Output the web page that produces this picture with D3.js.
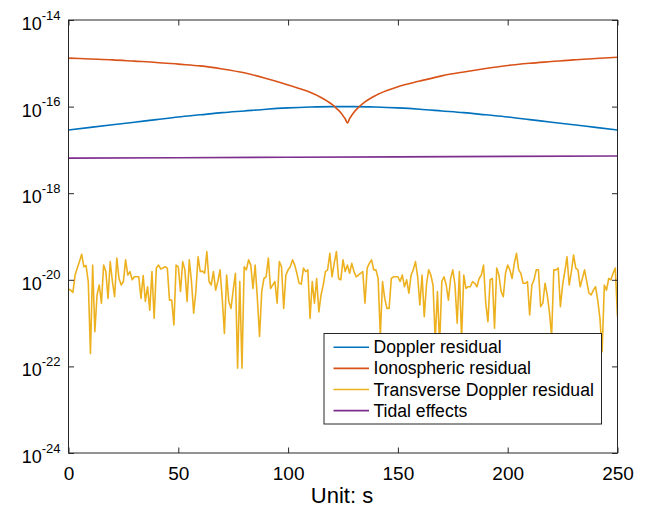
<!DOCTYPE html>
<html>
<head>
<meta charset="utf-8">
<script src="https://cdn.jsdelivr.net/npm/d3@7"></script>
<style>
  html, body { margin: 0; padding: 0; background: #fff; }
  svg { display: block; font-family: "Liberation Sans", Arial, Helvetica, sans-serif; }
</style>
</head>
<body>
<svg id="chart" width="647" height="509"></svg>
<script>
// ---------------- DATA ----------------
const seriesNames = ["Doppler residual", "Ionospheric residual", "Transverse Doppler residual", "Tidal effects"];
const seriesColors = ["#0072BD", "#D95319", "#EDB120", "#7E2F8E"];

const xTicks = [0, 50, 100, 150, 200, 250];
const yTickExps = [-24, -22, -20, -18, -16, -14];
const xLabel = "Unit: s";

// Doppler residual (log10 values) sampled every 10 s
const dopplerT = [0,10,20,30,40,50,60,70,80,90,100,110,120,130,140,150,160,170,180,190,200,210,220,230,240,250];
const dopplerLog = [-16.54,-16.48,-16.42,-16.36,-16.30,-16.24,-16.19,-16.14,-16.10,-16.06,-16.03,-16.01,-16.00,
                    -16.00,-16.01,-16.03,-16.06,-16.10,-16.14,-16.19,-16.24,-16.30,-16.36,-16.42,-16.48,-16.54];

// Ionospheric residual (log10 values)
const ionoT = [0,10,20,30,40,50,60,70,80,90,100,105,110,115,118,120,122,124,125,126,127,
               128,129,130,132,135,140,145,150,160,170,180,190,200,210,220,230,240,250];
const ionoLog = [-14.88,-14.90,-14.92,-14.95,-14.98,-15.02,-15.06,-15.13,-15.22,-15.35,-15.50,-15.58,-15.67,-15.79,-15.88,-15.95,-16.04,-16.14,-16.21,-16.28,-16.38,
                 -16.28,-16.20,-16.13,-16.02,-15.89,-15.74,-15.63,-15.54,-15.41,-15.29,-15.20,-15.12,-15.05,-15.00,-14.96,-14.92,-14.89,-14.86];

// Transverse Doppler residual (log10 values), one sample per second, t = 0..250
const transverseLog = [
-20.21,-20.24,-20.29,-19.89,-19.73,-19.58,-19.41,-19.70,-19.67,-20.04,
-21.70,-19.66,-21.20,-20.35,-20.12,-20.54,-19.66,-19.81,-20.43,-19.58,
-20.04,-20.39,-19.50,-19.97,-20.12,-20.04,-19.54,-19.89,-19.81,-20.00,
-19.93,-19.93,-19.93,-20.43,-19.90,-20.50,-20.16,-20.70,-19.81,-20.89,
-19.73,-19.66,-19.75,-19.73,-19.70,-19.73,-20.47,-20.47,-21.04,-19.66,
-19.70,-20.27,-19.58,-19.77,-20.50,-19.54,-20.04,-20.77,-20.27,-19.47,
-19.81,-19.80,-19.85,-19.35,-20.04,-20.12,-19.81,-20.24,-20.04,-19.77,
-20.43,-21.24,-19.89,-20.50,-20.66,-20.24,-19.85,-22.04,-20.04,-22.04,
-19.70,-19.77,-19.54,-19.66,-20.20,-19.66,-20.43,-21.31,-20.27,-19.97,
-19.93,-19.50,-20.20,-20.12,-20.04,-20.54,-19.58,-19.70,-20.66,-19.89,
-19.77,-19.70,-19.54,-19.66,-19.85,-20.08,-20.10,-19.73,-19.81,-19.77,
-20.89,-20.04,-20.54,-19.97,-20.74,-20.35,-20.12,-19.81,-19.77,-19.39,
-19.93,-19.62,-19.35,-19.97,-20.00,-19.54,-19.81,-19.66,-19.85,-19.62,
-19.81,-19.93,-19.89,-19.85,-19.81,-20.54,-19.73,-19.62,-19.54,-19.77,
-19.77,-19.97,-21.30,-20.04,-20.43,-20.66,-20.66,-19.97,-19.93,-19.93,
-19.93,-20.04,-19.89,-20.16,-20.00,-20.31,-19.89,-19.77,-19.58,-19.93,
-20.58,-19.89,-20.85,-20.12,-19.77,-19.89,-20.12,-21.40,-20.27,-21.50,
-20.04,-19.93,-20.12,-20.47,-19.97,-19.77,-20.12,-21.00,-19.81,-21.35,
-19.89,-20.20,-20.16,-20.16,-20.04,-20.08,-20.16,-19.97,-19.89,-19.66,
-20.54,-20.97,-20.00,-19.97,-21.12,-19.73,-19.89,-20.27,-20.39,-19.85,
-19.66,-19.77,-19.97,-19.62,-19.39,-19.77,-19.85,-20.08,-20.08,-20.04,
-20.81,-20.12,-20.00,-19.77,-19.77,-20.62,-20.54,-20.08,-20.35,-20.74,
-21.30,-19.77,-19.77,-19.73,-20.62,-20.12,-19.81,-19.47,-20.12,-19.81,
-19.43,-19.73,-19.77,-20.16,-19.97,-19.77,-20.04,-20.31,-20.35,-20.24,
-20.16,-20.47,-20.89,-21.66,-20.12,-20.24,-19.97,-20.00,-19.85,-19.73,
-20.85];

// Tidal effects (log10 values)
const tidalT = [0, 50, 100, 150, 200, 250];
const tidalLog = [-17.19, -17.18, -17.17, -17.16, -17.15, -17.14];

// ---------------- CHART ----------------
const svg = d3.select("#chart");
const L = 68.5, R = 617.5, T = 20, B = 453;
const axisColor = "#262626";

const x = d3.scaleLinear().domain([0, 250]).range([L, R]);
const y = d3.scaleLog().domain([1e-24, 1e-14]).range([B, T]);

svg.append("defs").append("clipPath").attr("id", "plotclip")
  .append("rect").attr("x", L).attr("y", T).attr("width", R - L).attr("height", B - T);

const toPts = (ts, logs) => ts.map((t, i) => ({ t: t, v: Math.pow(10, logs[i]) }));
const series = [
  toPts(dopplerT, dopplerLog),
  toPts(ionoT, ionoLog),
  toPts(d3.range(transverseLog.length), transverseLog),
  toPts(tidalT, tidalLog)
];

const line = d3.line().x(d => x(d.t)).y(d => y(d.v));
const gLines = svg.append("g").attr("clip-path", "url(#plotclip)");
series.forEach((s, i) => {
  gLines.append("path")
    .datum(s)
    .attr("fill", "none")
    .attr("stroke", seriesColors[i])
    .attr("stroke-width", 1.6)
    .attr("stroke-linejoin", "round")
    .attr("d", i === 0 || i === 1 ? line.curve(d3.curveMonotoneX)(s) : line.curve(d3.curveLinear)(s));
});

// axes (ticks inside, box)
const tickLen = 5.5;
const gx = svg.append("g").attr("transform", `translate(0,${B})`)
  .call(d3.axisBottom(x).tickValues(xTicks).tickSizeInner(-tickLen).tickSizeOuter(0).tickPadding(14));
const gxTop = svg.append("g").attr("transform", `translate(0,${T})`)
  .call(d3.axisTop(x).tickValues(xTicks).tickSizeInner(-tickLen).tickSizeOuter(0).tickFormat(""));
const yTickVals = yTickExps.map(e => Math.pow(10, e));
const gy = svg.append("g").attr("transform", `translate(${L},0)`)
  .call(d3.axisLeft(y).tickValues(yTickVals).tickSizeInner(-tickLen).tickSizeOuter(0).tickFormat(""));
const gyR = svg.append("g").attr("transform", `translate(${R},0)`)
  .call(d3.axisRight(y).tickValues(yTickVals).tickSizeInner(-tickLen).tickSizeOuter(0).tickFormat(""));

[gx, gxTop, gy, gyR].forEach(g => {
  g.select(".domain").remove();
  g.selectAll(".tick line").attr("stroke", axisColor).attr("stroke-width", 1);
});
gx.selectAll(".tick text").attr("fill", "#000").attr("font-size", 19)
  .attr("font-family", "'Liberation Sans', Arial, sans-serif");

svg.append("rect").attr("x", L).attr("y", T).attr("width", R - L).attr("height", B - T)
  .attr("fill", "none").attr("stroke", axisColor).attr("stroke-width", 1);

// y tick labels 10^e
yTickExps.forEach(e => {
  const yy = y(Math.pow(10, e));
  const t = svg.append("text")
    .attr("x", L - 8).attr("y", yy + 10)
    .attr("text-anchor", "end")
    .attr("fill", "#000")
    .attr("font-size", 18);
  t.append("tspan").text("10");
  t.append("tspan").attr("dy", -10.5).attr("font-size", 13).text(String(e));
});

// x label
svg.append("text").attr("x", (L + R) / 2 - 1).attr("y", 503)
  .attr("text-anchor", "middle").attr("fill", "#000").attr("font-size", 22)
  .text(xLabel);

// legend
const lg = svg.append("g");
lg.append("rect").attr("x", 324).attr("y", 333.5).attr("width", 277.5).attr("height", 90.5)
  .attr("fill", "#fff").attr("stroke", axisColor).attr("stroke-width", 1);
seriesNames.forEach((n, i) => {
  const by = 353.3 + i * 21.1;
  lg.append("line").attr("x1", 333.5).attr("x2", 369).attr("y1", by - 6).attr("y2", by - 6)
    .attr("stroke", seriesColors[i]).attr("stroke-width", 1.6);
  lg.append("text").attr("x", 373.5).attr("y", by).attr("font-size", 17.6).attr("fill", "#000").text(n);
});
</script>
</body>
</html>
